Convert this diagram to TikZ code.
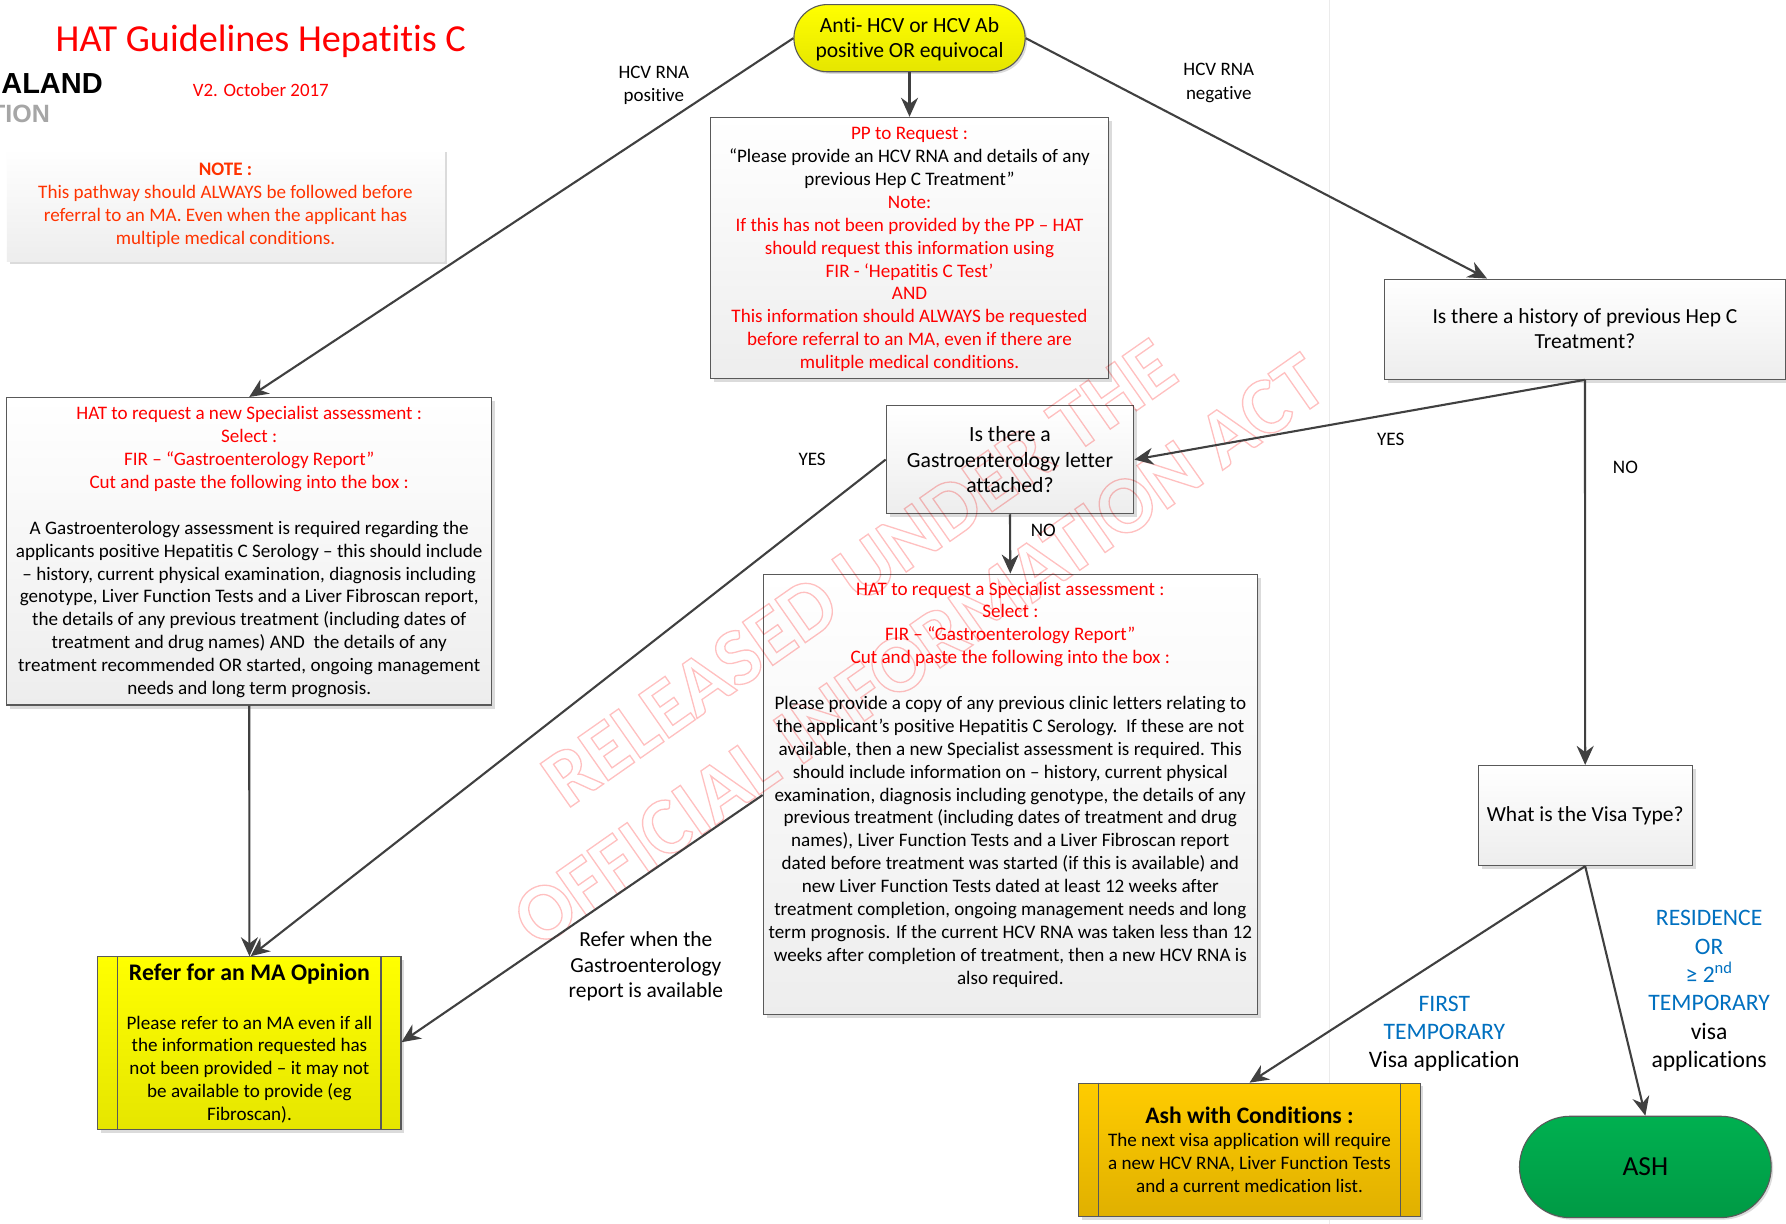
\documentclass[tikz,border=0pt]{standalone}
\usepackage{fontspec}
\setmainfont[Ligatures=NoCommon]{Carlito}
\newfontfamily\logofont{Liberation Sans}
\usetikzlibrary{arrows.meta,shapes.misc,shadows,calc}
\definecolor{hatred}{HTML}{FF0000}
\definecolor{noteorange}{HTML}{FF3300}
\definecolor{visablue}{HTML}{0070C0}
\definecolor{edge}{HTML}{404040}
\definecolor{amberTop}{HTML}{FFCC00}
\definecolor{amberBot}{HTML}{E0B000}
\definecolor{ashTop}{HTML}{00B050}
\definecolor{ashBot}{HTML}{009A45}
\definecolor{waterpink}{HTML}{FFC0C0}
\newcommand{\rd}{\color{hatred}}
\newcommand{\bl}{\color{visablue}}
\newcommand{\dn}[1]{\rule{0pt}{#1pt}}
\newcommand{\outlined}[1]{\special{pdf:code 1 Tr 1.3 w}#1\special{pdf:code 0 Tr}}
\tikzset{
  x=1.139pt,y=-1.139pt,
  base/.style={inner sep=0pt,align=center,font=\fontsize{19.1}{22.9}\selectfont},
  shade box/.style={draw=black!65,line width=1.1pt,
    general shadow={fill=black!14,shadow xshift=3.5pt,shadow yshift=-3.5pt},
    top color=white,bottom color=black!7},
  box/.style={base,shade box},
  notebox/.style={base,top color=white,bottom color=black!7,
    general shadow={fill=black!14,shadow xshift=3pt,shadow yshift=-3pt},text=noteorange},
  yellowbox/.style={base,draw=black!65,line width=1.1pt,top color=yellow,bottom color=yellow!90!black,
    general shadow={fill=black!14,shadow xshift=3pt,shadow yshift=-3pt}},
  amberbox/.style={base,draw=black!65,line width=1.1pt,top color=amberTop,bottom color=amberBot,
    general shadow={fill=black!14,shadow xshift=3pt,shadow yshift=-3pt}},
  terminal/.style={rounded rectangle,base,draw=black!65,line width=1.1pt,
    general shadow={fill=black!14,shadow xshift=2pt,shadow yshift=-2pt}},
  label/.style={base},
  bigl/.style={inner sep=0pt,align=center,font=\fontsize{23.6}{28.3}\selectfont},
  conn/.style={draw=edge,line width=2.1pt,-{Stealth[length=19pt,width=17pt]}},
  inner/.style={draw=black!65,line width=1.1pt},
  water/.style={inner sep=0pt,rotate=35,text=waterpink,font=\bfseries\fontsize{81.5}{82}\selectfont},
}
\begin{document}
\begin{tikzpicture}
\useasboundingbox (0,0) rectangle (1568,1074.6);
\fill[white] (0,0) rectangle (1568,1074.6);
\draw[black!8,line width=1pt] (1167,0) -- (1167,1074.6);

\node[inner sep=0pt,text=hatred,font=\fontsize{38.2}{42}\selectfont] (title) at (229,36) {HAT Guidelines Hepatitis C};
\node[inner sep=0pt,text=hatred,font=\fontsize{18.9}{22}\selectfont] (ver) at (229,79) {V2. October 2017};
\node[inner sep=0pt,anchor=west,font=\logofont\bfseries\fontsize{29}{32}\selectfont] (logoa) at (1,73) {ALAND};
\node[inner sep=0pt,anchor=east,text=black!35,font=\logofont\bfseries\fontsize{25}{26}\selectfont] (logob) at (44,100) {TION};

\node[notebox,minimum width=437.5pt,minimum height=112.8pt] (note) at (198,180)
 {\textbf{NOTE :}\\This pathway should ALWAYS be followed before\\referral to an MA. Even when the applicant has\\multiple medical conditions.};

\node[terminal,top color=yellow,bottom color=yellow!90!black,minimum width=231.2pt,minimum height=67.2pt,font=\fontsize{21.6}{25.2}\selectfont] (top) at (798.5,33.5)
 {\dn{16.4}Anti- HCV or HCV Ab\\positive OR equivocal};

\node[box,minimum width=397.5pt,minimum height=260.8pt] (pp) at (798.5,217.5)
 {\rd\dn{15.8}PP to Request :\\“Please provide an HCV RNA and details of any\\previous Hep C Treatment”\\\rd Note:\\\rd If this has not been provided by the PP – HAT\\\rd should request this information using\\\rd FIR - ‘Hepatitis C Test’\\\rd AND\\\rd This information should ALWAYS be requested\\\rd before referral to an MA, even if there are\\\rd mulitple medical conditions.};

\node[box,minimum width=485.2pt,minimum height=307.5pt] (left) at (218.8,484)
 {\rd\dn{15}HAT to request a new Specialist assessment :\\\rd Select :\\\rd FIR – “Gastroenterology Report”\\\rd Cut and paste the following into the box :\\[22.9pt]A Gastroenterology assessment is required regarding the\\applicants positive Hepatitis C Serology – this should include\\– history, current physical examination, diagnosis including\\genotype, Liver Function Tests and a Liver Fibroscan report,\\the details of any previous treatment (including dates of\\treatment and drug names) AND\ \ the details of any\\treatment recommended OR started, ongoing management\\needs and long term prognosis.};

\node[box,minimum width=247.6pt,minimum height=108.2pt,font=\fontsize{21.7}{25.6}\selectfont] (gastro) at (886.7,403.5)
 {Is there a\\Gastroenterology letter\\attached?};

\node[box,minimum width=494.3pt,minimum height=440.8pt] (spec) at (887,697.5)
 {\rd HAT to request a Specialist assessment :\\\rd Select :\\\rd FIR – “Gastroenterology Report”\\\rd Cut and paste the following into the box :\\[22.8pt]Please provide a copy of any previous clinic letters relating to\\the applicant’s positive Hepatitis C Serology.\ \ If these are not\\available, then a new Specialist assessment is required. This\\should include information on – history, current physical\\examination, diagnosis including genotype, the details of any\\previous treatment (including dates of treatment and drug\\names), Liver Function Tests and a Liver Fibroscan report\\dated before treatment was started (if this is available) and\\new Liver Function Tests dated at least 12 weeks after\\treatment completion, ongoing management needs and long\\term prognosis. If the current HCV RNA was taken less than 12\\weeks after completion of treatment, then a new HCV RNA is\\also required.\\~};

\node[box,minimum width=400.9pt,minimum height=100.2pt,font=\fontsize{21.5}{25}\selectfont] (hepc) at (1391.5,289)
 {Is there a history of previous Hep C\\Treatment?\rule[-1pt]{0pt}{1pt}};

\node[box,minimum width=214.1pt,minimum height=100.2pt,font=\fontsize{21.5}{25}\selectfont] (visa) at (1391.7,716)
 {What is the Visa Type?};

\node[yellowbox,minimum width=303pt,minimum height=173.1pt] (refer) at (219,916)
 {{\fontsize{23.8}{26}\selectfont\textbf{Refer for an MA Opinion}}\\[26pt]Please refer to an MA even if all\\the information requested has\\not been provided – it may not\\be available to provide (eg\\Fibroscan).};

\node[amberbox,minimum width=341.7pt,minimum height=133.3pt] (ashc) at (1097,1009.5)
 {{\fontsize{23.6}{26}\selectfont\textbf{Ash with Conditions :}}\\The next visa application will require\\a new HCV RNA, Liver Function Tests\\and a current medication list.};

\node[terminal,top color=ashTop,bottom color=ashBot,minimum width=251.7pt,minimum height=101.4pt,font=\fontsize{27.5}{30}\selectfont] (ash) at (1444.5,1024.5) {ASH};

\draw[inner] ($(refer.north west)+(18,0)$) -- ($(refer.south west)+(18,0)$);
\draw[inner] ($(refer.north east)+(-18,0)$) -- ($(refer.south east)+(-18,0)$);
\draw[inner] ($(ashc.north west)+(18,0)$) -- ($(ashc.south west)+(18,0)$);
\draw[inner] ($(ashc.north east)+(-18,0)$) -- ($(ashc.south east)+(-18,0)$);

\begin{scope}[blend mode=multiply]
\node[water] (w1) at (754,503) {\outlined{RELEASED UNDER THE}};
\node[water] (w2) at (807,571) {\outlined{OFFICIAL INFORMATION ACT}};
\end{scope}

\coordinate (hepcin) at ($(hepc.north)+(-86,0)$);
\coordinate (specout) at ($(spec.west)+(0,0.5)$);
\coordinate (referin) at ($(refer.east)+(0,-1)$);
\coordinate (referin2) at ($(refer.north)+(1,0)$);
\draw[conn] (top.west) -- (left.north);
\draw[conn] (top.south) -- (pp.north);
\draw[conn] (top.east) -- (hepcin);
\draw[conn] (hepc.south) -- (gastro.east);
\draw[conn] (hepc.south) -- (visa.north);
\draw[conn] (gastro.west) -- (referin2);
\draw[conn] (gastro.south) -- (spec.north);
\draw[conn] (left.south) -- (refer.north);
\draw[conn] (specout) -- (referin);
\draw[conn] (visa.south) -- (ashc.north);
\draw[conn] (visa.south) -- (ash.north);

\node[inner sep=0pt,align=center,font=\fontsize{19}{23.5}\selectfont] (l1) at (574,75) {HCV RNA\\positive};
\node[inner sep=0pt,align=center,font=\fontsize{19}{23.5}\selectfont] (l2) at (1070,73) {HCV RNA\\negative};
\node[label] (l3) at (1221,386) {YES};
\node[label] (l4) at (1427,410) {NO};
\node[label] (l5) at (713,403.5) {YES};
\node[label] (l6) at (916,466) {NO};
\node[inner sep=0pt,align=center,font=\fontsize{21.4}{25.6}\selectfont] (l7) at (567,848.5) {Refer when the\\Gastroenterology\\report is available};
\node[bigl] (l8) at (1268,907.5) {\bl FIRST\\\bl TEMPORARY\\Visa application};
\node[bigl] (l9) at (1500.5,870) {\bl RESIDENCE\\\bl OR\\\bl ≥ 2\textsuperscript{nd}\\\bl TEMPORARY\\visa\\applications};
\end{tikzpicture}
\end{document}
